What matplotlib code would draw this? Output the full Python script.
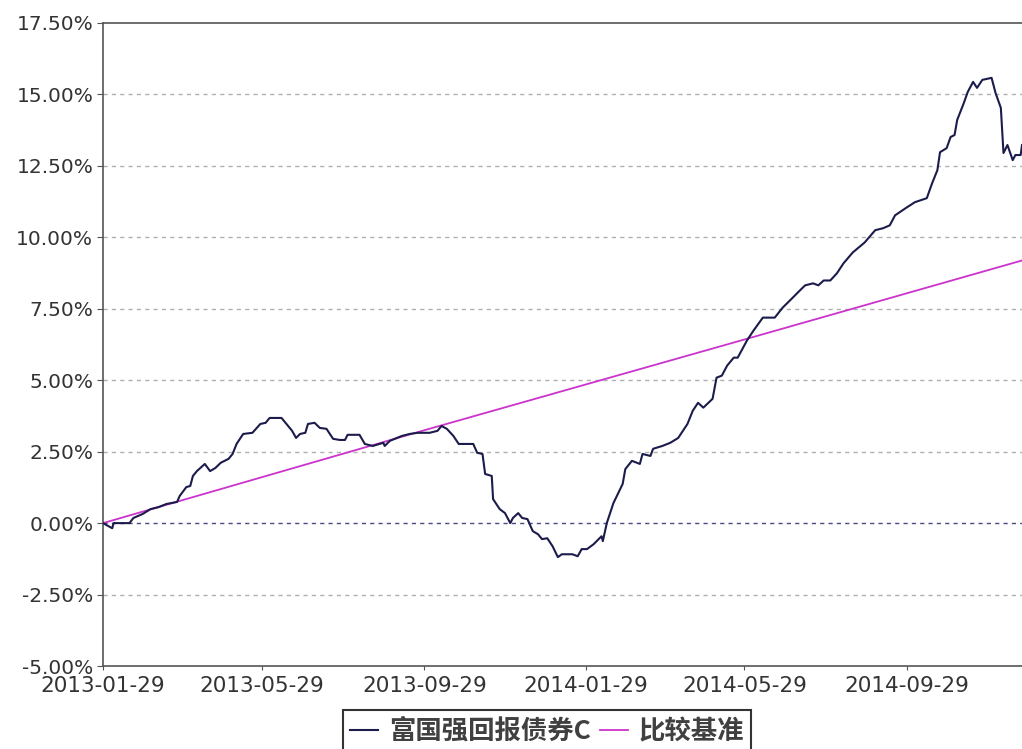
import numpy as np, pandas as pd
import matplotlib; matplotlib.use("Agg")
import matplotlib.pyplot as plt
import matplotlib.dates as mdates
from matplotlib.ticker import FuncFormatter

plt.rcParams["font.family"] = ["DejaVu Sans"]

START = pd.Timestamp("2013-01-29")

# fund cumulative return (%), keyed by days since 2013-01-29
fund_days = [0, 7, 8, 20, 23, 30, 36, 42, 48, 56, 58, 63, 66, 68, 71, 77, 81, 85, 89, 95,
             98, 101, 106, 113, 119, 123, 126, 135, 138, 143, 146, 149, 153, 155, 160, 164,
             169, 174, 179, 183, 185, 194, 198, 204, 212, 213, 217, 226, 232, 238, 247, 253,
             256, 260, 265, 269, 275, 280, 283, 287, 289, 294, 295, 300, 304, 308, 310, 314,
             317, 321, 325, 329, 332, 336, 340, 344, 347, 355, 359, 362, 366, 371, 377, 378,
             381, 386, 393, 395, 400, 406, 408, 414, 416, 423, 429, 435, 442, 446, 450, 454,
             461, 464, 468, 472, 477, 480, 487, 492, 499, 508, 514, 521, 527, 531, 537, 541,
             545, 550, 555, 560, 567, 576, 584, 590, 595, 599, 607, 614, 623, 627, 631, 633,
             638, 641, 644, 646, 651, 654, 658, 661, 665, 672, 675, 679, 681, 684, 688, 690,
             694, 695]
fund_vals = [0.0, -0.18, 0.0, 0.0, 0.18, 0.32, 0.49, 0.56, 0.67, 0.74, 0.95, 1.26, 1.30, 1.65,
             1.82, 2.07, 1.82, 1.93, 2.11, 2.25, 2.42, 2.77, 3.12, 3.16, 3.47, 3.51, 3.68, 3.68,
             3.51, 3.23, 2.98, 3.12, 3.16, 3.47, 3.51, 3.33, 3.30, 2.95, 2.91, 2.91, 3.09, 3.09,
             2.77, 2.70, 2.81, 2.70, 2.88, 3.05, 3.12, 3.16, 3.16, 3.23, 3.40, 3.30, 3.05, 2.77,
             2.77, 2.77, 2.46, 2.42, 1.72, 1.65, 0.84, 0.49, 0.35, 0.0, 0.18, 0.35, 0.18, 0.14,
             -0.28, -0.39, -0.56, -0.53, -0.81, -1.19, -1.09, -1.09, -1.16, -0.91, -0.91, -0.74,
             -0.46, -0.63, 0.0, 0.70, 1.37, 1.89, 2.18, 2.07, 2.42, 2.35, 2.60, 2.70, 2.81, 2.98,
             3.47, 3.93, 4.21, 4.04, 4.35, 5.09, 5.16, 5.51, 5.79, 5.79, 6.39, 6.74, 7.19, 7.19,
             7.54, 7.86, 8.14, 8.32, 8.39, 8.32, 8.49, 8.49, 8.74, 9.09, 9.47, 9.82, 10.25, 10.32,
             10.42, 10.77, 11.02, 11.23, 11.37, 11.89, 12.35, 12.98, 13.12, 13.51, 13.58, 14.11,
             14.70, 15.09, 15.44, 15.23, 15.51, 15.58, 15.05, 14.53, 12.95, 13.23, 12.70, 12.88,
             12.88, 13.23]

# benchmark cumulative return (%)
bench_days = [0, 243, 487, 695]
bench_vals = [0.0, 3.25, 6.45, 9.19]

ytick_vals = [-5.0, -2.5, 0.0, 2.5, 5.0, 7.5, 10.0, 12.5, 15.0, 17.5]
xtick_dates = ["2013-01-29", "2013-05-29", "2013-09-29", "2014-01-29", "2014-05-29", "2014-09-29"]
series_names = ["富国强回报债券C", "比较基准"]

fund_x = START + pd.to_timedelta(fund_days, unit="D")
bench_x = START + pd.to_timedelta(bench_days, unit="D")

fig = plt.figure(figsize=(10.22, 7.49), dpi=100)
ax = fig.add_axes([103/1022, 1-666/749, 1-103/1022, (666-23)/749])

# grid lines
for v in ytick_vals[1:-1]:
    if v == 0:
        ax.axhline(v, color="#4a4a80", lw=1, ls=(0, (3, 3)), zorder=1)
    else:
        ax.axhline(v, color="#b0b0b0", lw=1, ls=(0, (3, 3)), zorder=1)

ax.plot(bench_x, bench_vals, color="#cc33cc", lw=1.3, zorder=2, label=series_names[1])
ax.plot(fund_x, fund_vals, color="#1c1c4c", lw=1.5, zorder=3, label=series_names[0])

ax.set_xlim(START, START + pd.Timedelta(days=695))
ax.set_ylim(-5, 17.5)
ax.set_yticks(ytick_vals)
ax.yaxis.set_major_formatter(FuncFormatter(lambda v, p: f"{v:.2f}%"))
ax.set_xticks(pd.to_datetime(xtick_dates))
ax.xaxis.set_major_formatter(mdates.DateFormatter("%Y-%m-%d"))

for s in ["left", "bottom", "top"]:
    ax.spines[s].set_color("#555555")
    ax.spines[s].set_linewidth(1.2)
ax.spines["right"].set_visible(False)
ax.tick_params(axis="y", direction="out", length=4, color="#555555", labelsize=14.5,
               labelcolor="#333333", pad=3)
ax.tick_params(axis="x", direction="out", length=3, color="#555555", labelsize=15.5,
               labelcolor="#333333", pad=4)

h, l = ax.get_legend_handles_labels()
leg = fig.legend(h[::-1], l[::-1], loc="upper center", bbox_to_anchor=(547/1022, 1-710/749),
                 ncol=2, frameon=True, fancybox=False, edgecolor="#000000",
                 prop={"family": ["Noto Sans CJK SC", "DejaVu Sans"], "size": 19, "weight": "bold"},
                 handlelength=1.05, handletextpad=0.4, columnspacing=0.35, borderpad=0.3,
                 borderaxespad=0)
leg.get_frame().set_linewidth(1.5)
for t in leg.get_texts():
    t.set_color("#404040")

fig.savefig("out.png", dpi=100)
